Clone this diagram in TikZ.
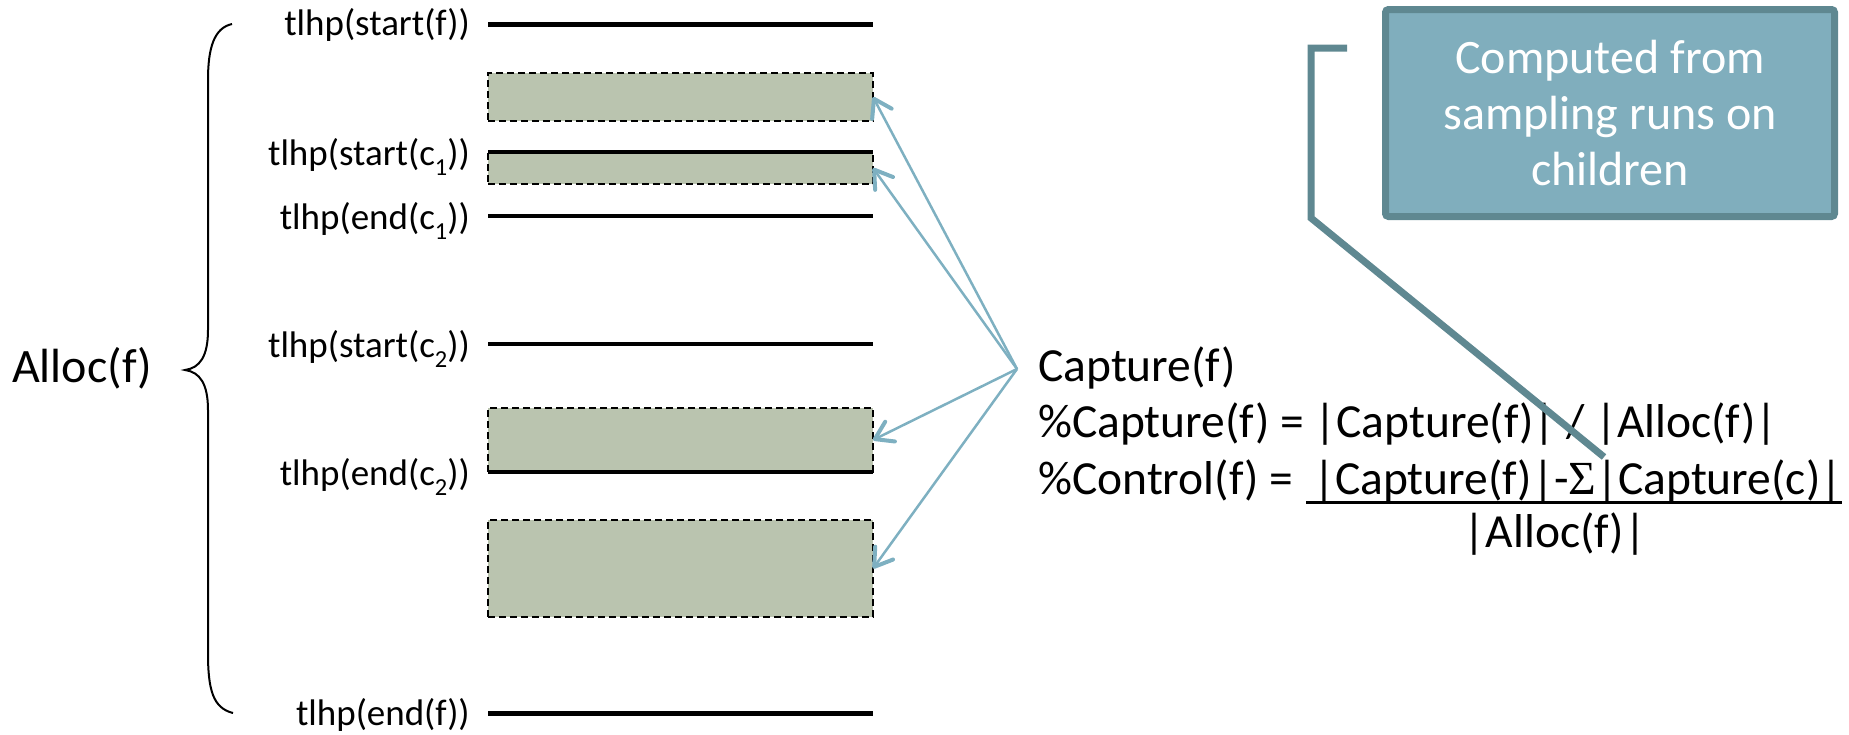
\documentclass[tikz,border=0pt]{standalone}
\usepackage{graphicx}
\usepackage{fontspec}
\setmainfont{Carlito}
\newfontfamily\sigfont{Liberation Serif}
\usetikzlibrary{arrows.meta}
\definecolor{boxfill}{HTML}{BAC4AF}
\definecolor{arrowblue}{HTML}{7EB0C1}
\definecolor{notefill}{HTML}{80AEBD}
\definecolor{noteline}{HTML}{5F8891}
\newcommand\subs[1]{\raisebox{-0.28em}{\scalebox{0.66}{#1}}}
\begin{document}
\begin{tikzpicture}[x=1pt,y=-1pt,
  lbl/.style={font=\fontsize{37}{44}\selectfont, inner sep=0pt, anchor=base east},
  main/.style={font=\fontsize{47.5}{56}\selectfont, inner sep=0pt, anchor=base west},
  slot/.style={draw=black, dash pattern=on 7pt off 4pt, line width=1.8pt,
    fill=boxfill, inner sep=0pt, outer sep=0pt, minimum width=385pt},
  tline/.style={line width=3.2pt},
  tlinebold/.style={line width=5pt},
  ptr/.style={draw=arrowblue, line width=2.5pt,
    -{Straight Barb[length=17pt, width=22pt, line width=4pt, round]}},
  note/.style={draw=noteline, line width=7pt, fill=notefill, rounded corners=3pt,
    minimum width=449pt, minimum height=207pt, inner sep=0pt, text=white,
    align=center, font=\fontsize{48}{56}\selectfont},
  noteptr/.style={draw=noteline, line width=7pt}]
\useasboundingbox (0,0) rectangle (1849,734);

% sampled intervals
\node[slot, minimum height=48pt] (b1) at (680.5,97) {};
\node[slot, minimum height=32pt] (b2) at (680.5,168) {};
\node[slot, minimum height=64pt] (b3) at (680.5,440) {};
\node[slot, minimum height=97pt] (b4) at (680.5,568.5) {};

% timeline marks
\draw[tlinebold] (488,24) -- (873,24);
\draw[tline] (488,152) -- (873,152);
\draw[tline] (488,216) -- (873,216);
\draw[tline] (488,344) -- (873,344);
\draw[tline] (488,472) -- (873,472);
\draw[tlinebold] (488,713) -- (873,713);

% labels of the marks
\node[lbl] (lsf) at (470,35) {tlhp(start(f))};
\node[lbl] (lsc1) at (470,165) {tlhp(start(c\subs{1}))};
\node[lbl] (lec1) at (470,229) {tlhp(end(c\subs{1}))};
\node[lbl] (lsc2) at (470,357) {tlhp(start(c\subs{2}))};
\node[lbl] (lec2) at (470,485) {tlhp(end(c\subs{2}))};
\node[lbl] (lef) at (470,725) {tlhp(end(f))};

% brace over the whole allocation
\draw[line width=2pt] (232,24) .. controls (214,28) and (208,48) .. (208,80)
  -- (208,330) .. controls (208,356) and (200,368) .. (185,370)
  .. controls (200,372) and (208,384) .. (208,410)
  -- (208,653) .. controls (208,690) and (213,708) .. (233,713);
\node[main, font=\fontsize{48}{56}\selectfont] (alloc) at (12,382) {Alloc(f)};

% capture arrows
\coordinate (src) at (1017,369);
\foreach \b in {b1,b2,b3,b4} \draw[ptr] (src) -- (\b.east);

% formulas
\node[main] (cap) at (1038,381) {Capture(f)};
\node[main] (pcap) at (1038,437) {\%Capture(f) = |Capture(f)| / |Alloc(f)|};
\node[main] (pctl) at (1038,494) {\%Control(f) =};
\node[main] (num) at (1313,494) {|Capture(f)|-{\sigfont Σ}|Capture(c)|};
\draw[line width=3pt] (1306,502) -- (1842,502);
\node[main, anchor=base] (den) at (1555,547) {|Alloc(f)|};

% callout
\node[note] (note) at (1610,113) {Computed from\\sampling runs on\\children};
\coordinate (hook) at (1347,48);
\coordinate (tail) at (1604,457);
\draw[noteptr] (hook) -- (1311,48) -- (1311,218) -- (tail);
\end{tikzpicture}
\end{document}
